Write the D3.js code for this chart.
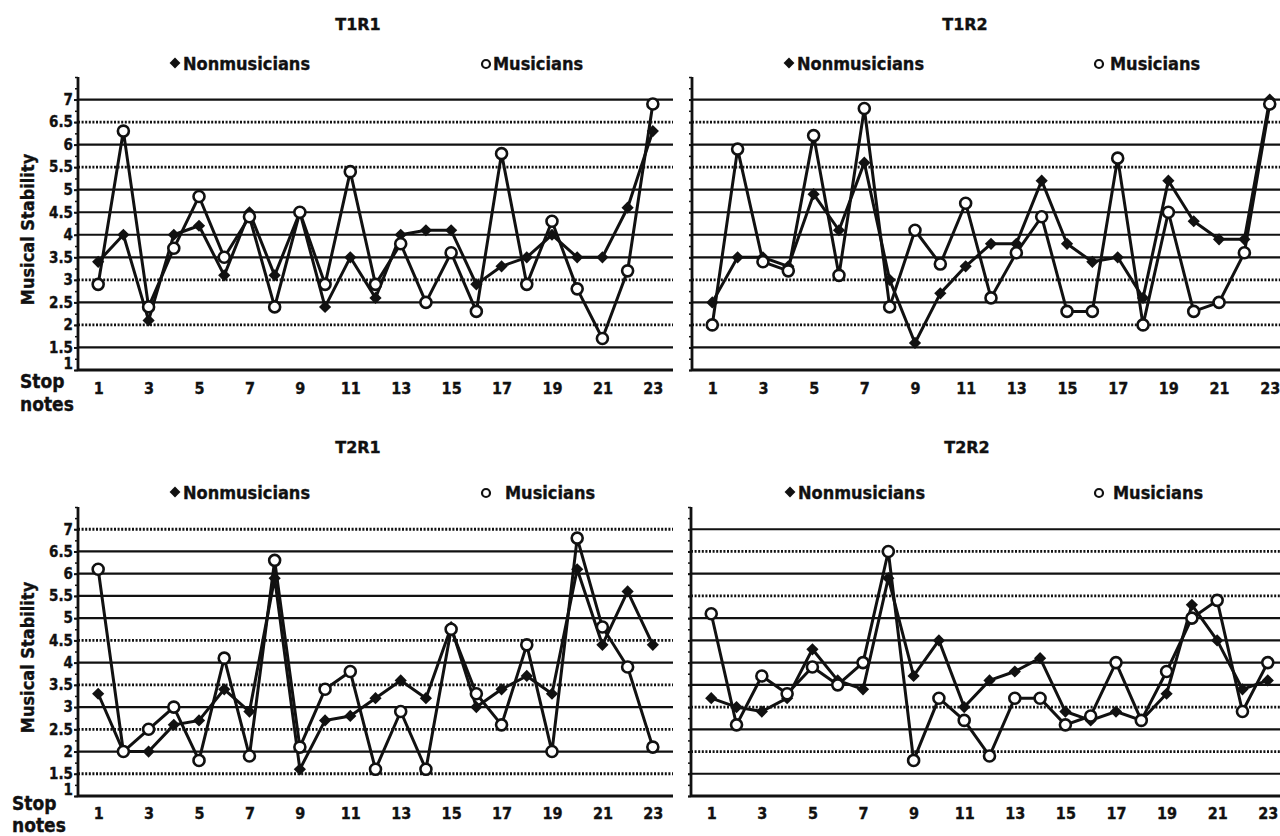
<!DOCTYPE html>
<html>
<head>
<meta charset="utf-8">
<script src="https://cdn.jsdelivr.net/npm/d3@7"></script>
<style>
body { margin: 0; background: #fff; }
text { font-family: "DejaVu Sans Condensed", "DejaVu Sans", sans-serif; font-weight: bold; fill: #111; stroke: #111; stroke-width: 0.35px; }
</style>
</head>
<body>
<div id="chart"></div>
<script>
// global variables
var width = 1280,
    height = 836;

// data
var notes = [1, 2, 3, 4, 5, 6, 7, 8, 9, 10, 11, 12, 13, 14, 15, 16, 17, 18, 19, 20, 21, 22, 23];
var xTicks = [1, 3, 5, 7, 9, 11, 13, 15, 17, 19, 21, 23];
var yTicks = [1, 1.5, 2, 2.5, 3, 3.5, 4, 4.5, 5, 5.5, 6, 6.5, 7];
var gridValues = [1.5, 2, 2.5, 3, 3.5, 4, 4.5, 5, 5.5, 6, 6.5, 7];
var seriesNames = ['Nonmusicians', 'Musicians'];
var titles = ['T1R1', 'T1R2', 'T2R1', 'T2R2'];

var t1r1Non = [3.4, 4.0, 2.1, 4.0, 4.2, 3.1, 4.5, 3.1, 4.5, 2.4, 3.5, 2.6, 4.0, 4.1, 4.1, 2.9, 3.3, 3.5, 4.0, 3.5, 3.5, 4.6, 6.3];
var t1r1Mus = [2.9, 6.3, 2.4, 3.7, 4.85, 3.5, 4.4, 2.4, 4.5, 2.9, 5.4, 2.9, 3.8, 2.5, 3.6, 2.3, 5.8, 2.9, 4.3, 2.8, 1.7, 3.2, 6.9];
var t1r2Non = [2.5, 3.5, 3.5, 3.3, 4.9, 4.1, 5.6, 3.0, 1.6, 2.7, 3.3, 3.8, 3.8, 5.2, 3.8, 3.4, 3.5, 2.6, 5.2, 4.3, 3.9, 3.9, 7.0];
var t1r2Mus = [2.0, 5.9, 3.4, 3.2, 6.2, 3.1, 6.8, 2.4, 4.1, 3.35, 4.7, 2.6, 3.6, 4.4, 2.3, 2.3, 5.7, 2.0, 4.5, 2.3, 2.5, 3.6, 6.9];
var t2r1Non = [3.3, 2.0, 2.0, 2.6, 2.7, 3.4, 2.9, 5.9, 1.6, 2.7, 2.8, 3.2, 3.6, 3.2, 4.8, 3.0, 3.4, 3.7, 3.3, 6.1, 4.4, 5.6, 4.4];
var t2r1Mus = [6.1, 2.0, 2.5, 3.0, 1.8, 4.1, 1.9, 6.3, 2.1, 3.4, 3.8, 1.6, 2.9, 1.6, 4.75, 3.3, 2.6, 4.4, 2.0, 6.8, 4.8, 3.9, 2.1];
var t2r2Non = [3.2, 3.0, 2.9, 3.2, 4.3, 3.6, 3.4, 5.9, 3.7, 4.5, 3.0, 3.6, 3.8, 4.1, 2.9, 2.7, 2.9, 2.7, 3.3, 5.3, 4.5, 3.4, 3.6];
var t2r2Mus = [5.1, 2.6, 3.7, 3.3, 3.9, 3.5, 4.0, 6.5, 1.8, 3.2, 2.7, 1.9, 3.2, 3.2, 2.6, 2.8, 4.0, 2.7, 3.8, 5.0, 5.4, 2.9, 4.0];

// panel layout (positions only)
var panels = [
    {title: titles[0], non: t1r1Non, mus: t1r1Mus, left: 78, right: 673, top: 77, bottom: 370, labels: true,
     titleX: 358, titleY: 30, legY: 70, nonX: 183, symX: 486, musX: 493, tickPad: 13,
     stopX: 20, stopY: 388, notesY: 411, dotted: [6.5, 5.5, 3, 2]},
    {title: titles[1], non: t1r2Non, mus: t1r2Mus, left: 692, right: 1290, top: 77, bottom: 370, labels: false,
     titleX: 965, titleY: 30, legY: 70, nonX: 797, symX: 1099, musX: 1110, tickPad: 13,
     dotted: [6.5, 5.5, 3, 2]},
    {title: titles[2], non: t2r1Non, mus: t2r1Mus, left: 78, right: 673, top: 507, bottom: 796, labels: true,
     titleX: 358, titleY: 453, legY: 499, nonX: 183, symX: 486, musX: 505, tickPad: 12,
     stopX: 12, stopY: 810, notesY: 832, dotted: [7, 4.5, 3.5, 2.5, 1.5]},
    {title: titles[3], non: t2r2Non, mus: t2r2Mus, left: 691, right: 1288, top: 507, bottom: 796, labels: false,
     titleX: 967, titleY: 453, legY: 499, nonX: 798, symX: 1099, musX: 1113, tickPad: 12,
     dotted: [6.5, 5.5, 3, 2]}
];

var ink = '#111';

// create svg figure
var svg = d3.select('#chart').append('svg')
    .attr('width', width)
    .attr('height', height)
    .style('display', 'block');

svg.append('rect')
    .attr('width', width)
    .attr('height', height)
    .attr('fill', '#fff');

panels.forEach(function(p){
    var g = svg.append('g');

    var x = d3.scaleLinear()
        .domain([0.2, 23.8])
        .range([p.left, p.right]);

    var y = d3.scaleLinear()
        .domain([1, 7.5])
        .range([p.bottom, p.top]);

    // title
    g.append('text')
        .attr('x', p.titleX)
        .attr('y', p.titleY)
        .attr('text-anchor', 'middle')
        .style('font-family', '"DejaVu Sans", sans-serif')
        .style('font-size', '16px')
        .text(p.title);

    // legend
    g.append('path')
        .attr('d', d3.symbol().type(d3.symbolDiamond2).size(75)())
        .attr('transform', 'translate(' + (p.nonX - 8) + ',' + (p.legY - 7) + ')')
        .attr('fill', ink);
    g.append('text')
        .attr('x', p.nonX)
        .attr('y', p.legY)
        .style('font-size', '18px')
        .text(seriesNames[0]);
    g.append('circle')
        .attr('cx', p.symX)
        .attr('cy', p.legY - 6)
        .attr('r', 4)
        .attr('fill', 'none')
        .attr('stroke', ink)
        .attr('stroke-width', 2.2);
    g.append('text')
        .attr('x', p.musX)
        .attr('y', p.legY)
        .style('font-size', '18px')
        .text(seriesNames[1]);

    // gridlines
    g.selectAll('.grid')
        .data(gridValues)
      .enter().append('line')
        .attr('class', 'grid')
        .attr('x1', p.left)
        .attr('x2', p.right)
        .attr('y1', function(d){ return y(d); })
        .attr('y2', function(d){ return y(d); })
        .attr('stroke', ink)
        .attr('stroke-width', function(d){ return p.dotted.indexOf(d) >= 0 ? 2.8 : 2.2; })
        .attr('stroke-dasharray', function(d){ return p.dotted.indexOf(d) >= 0 ? '2,1.6' : null; });

    // y axis, minor ticks
    var minor = g.append('g')
        .attr('transform', 'translate(' + p.left + ',0)')
        .call(d3.axisLeft(y).tickValues(d3.range(1, 7.51, 0.25)).tickSize(3).tickFormat(''));
    minor.select('.domain').remove();
    minor.selectAll('line').attr('stroke', ink).attr('stroke-width', 1.5);

    // y axis, labels
    var yAxis = g.append('g')
        .attr('transform', 'translate(' + p.left + ',0)')
        .call(d3.axisLeft(y).tickValues(yTicks).tickSize(p.labels ? 4 : 3)
            .tickPadding(1)
            .tickFormat(p.labels ? d3.format('') : ''));
    yAxis.select('.domain')
        .attr('stroke', ink)
        .attr('stroke-width', 2.8)
        .attr('d', 'M0,' + p.top + 'V' + p.bottom);
    yAxis.selectAll('line').attr('stroke', ink).attr('stroke-width', 2);
    yAxis.selectAll('text')
        .style('font-size', '15px')
        .style('font-family', '"DejaVu Sans Condensed", "DejaVu Sans", sans-serif')
        .attr('fill', ink);
    yAxis.selectAll('.tick')
        .filter(function(d){ return d === 1; })
        .select('text')
        .attr('dy', '-0.1em');

    // x axis
    var xAxis = g.append('g')
        .attr('transform', 'translate(0,' + p.bottom + ')')
        .call(d3.axisBottom(x).tickValues(xTicks).tickSize(0).tickPadding(p.tickPad));
    xAxis.select('.domain').remove();
    xAxis.selectAll('text')
        .style('font-size', '16px')
        .style('font-family', '"DejaVu Sans Condensed", "DejaVu Sans", sans-serif')
        .attr('fill', ink);
    g.append('line')
        .attr('x1', p.left)
        .attr('x2', p.right)
        .attr('y1', p.bottom)
        .attr('y2', p.bottom)
        .attr('stroke', ink)
        .attr('stroke-width', 3);

    if(p.labels){
        // y title
        g.append('text')
            .attr('transform', 'translate(' + (p.left - 44) + ',' + ((p.top + p.bottom) / 2 + 6) + ') rotate(-90)')
            .attr('text-anchor', 'middle')
            .style('font-size', '18px')
            .text('Musical Stability');
        // stop notes
        g.append('text')
            .attr('x', p.stopX)
            .attr('y', p.stopY)
            .style('font-size', '19px')
            .text('Stop');
        g.append('text')
            .attr('x', p.stopX)
            .attr('y', p.notesY)
            .style('font-size', '19px')
            .text('notes');
    }

    // draw lines
    var line = d3.line()
        .x(function(d, i){ return x(notes[i]); })
        .y(function(d){ return y(d); });

    g.append('path')
        .datum(p.mus)
        .attr('d', line)
        .attr('fill', 'none')
        .attr('stroke', ink)
        .attr('stroke-width', 3)
        .attr('stroke-linejoin', 'round');

    g.append('path')
        .datum(p.non)
        .attr('d', line)
        .attr('fill', 'none')
        .attr('stroke', ink)
        .attr('stroke-width', 3)
        .attr('stroke-linejoin', 'round');

    // draw markers
    g.selectAll('.non')
        .data(p.non)
      .enter().append('path')
        .attr('class', 'non')
        .attr('d', d3.symbol().type(d3.symbolDiamond2).size(95)())
        .attr('transform', function(d, i){ return 'translate(' + x(notes[i]) + ',' + y(d) + ')'; })
        .attr('fill', ink);

    g.selectAll('.mus')
        .data(p.mus)
      .enter().append('circle')
        .attr('class', 'mus')
        .attr('cx', function(d, i){ return x(notes[i]); })
        .attr('cy', function(d){ return y(d); })
        .attr('r', 5.5)
        .attr('fill', '#fff')
        .attr('stroke', ink)
        .attr('stroke-width', 2.6);
});
</script>
</body>
</html>
